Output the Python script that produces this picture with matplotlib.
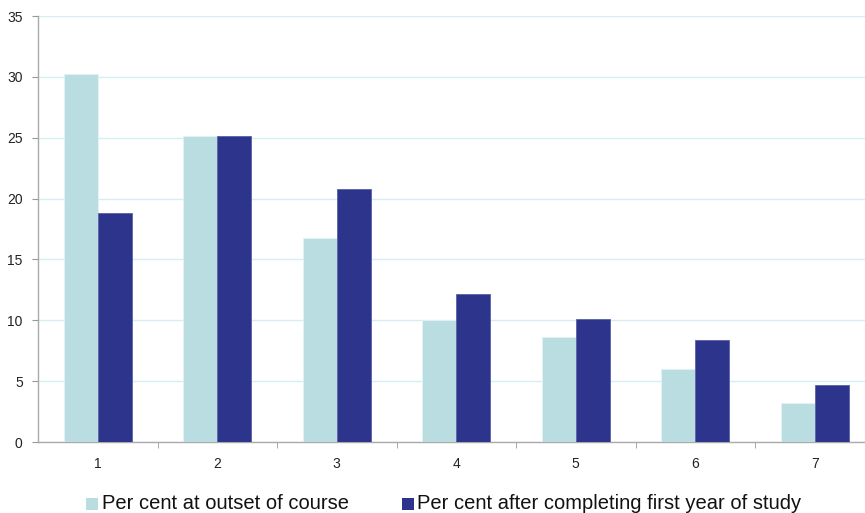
import matplotlib
matplotlib.use("Agg")
import matplotlib.pyplot as plt
from matplotlib.patches import Rectangle
import numpy as np

plt.rcParams['font.family'] = ['Liberation Sans', 'DejaVu Sans']

categories = ['1', '2', '3', '4', '5', '6', '7']
outset = [30.2, 25.1, 16.8, 10.0, 8.6, 6.0, 3.2]
after_first_year = [18.8, 25.1, 20.8, 12.2, 10.1, 8.4, 4.7]
series_names = ['Per cent at outset of course', 'Per cent after completing first year of study']
yticks = [0, 5, 10, 15, 20, 25, 30, 35]

light = '#b9dde1'
dark = '#2d348b'

W, H = 865, 513
fig = plt.figure(figsize=(W/100, H/100), dpi=100)
ax = fig.add_axes([38/W, 1-442/H, 836.5/W, 426/H])

x = np.arange(1, len(categories) + 1)
w = 0.285
ax.bar(x - w/2, outset, width=w, color=light, edgecolor='#e4f2f4', linewidth=0.6, zorder=3)
ax.bar(x + w/2, after_first_year, width=w, color=dark, edgecolor='#5a60a8', linewidth=0.6, zorder=3)

ax.set_xlim(0.5, len(categories) + 0.5)
ax.set_ylim(0, 35)
ax.set_yticks(yticks)
ax.set_yticklabels([str(t) for t in yticks], fontsize=10, color='#222222')
ax.yaxis.grid(True, color='#d6eef3', linewidth=1.0, zorder=0)
ax.set_axisbelow(True)

ax.set_xticks(x)
ax.set_xticklabels(categories, fontsize=10, color='#222222')
ax.set_xticks(np.arange(1.5, len(categories) + 0.5, 1), minor=True)
ax.tick_params(axis='x', which='major', length=0, pad=11)
ax.tick_params(axis='x', which='minor', length=4, color='#999999', direction='out')
ax.tick_params(axis='y', length=4, color='#999999', pad=7)

for s in ['top', 'right']:
    ax.spines[s].set_visible(False)
for s in ['left', 'bottom']:
    ax.spines[s].set_color('#aaaaaa')
    ax.spines[s].set_linewidth(1.0)

# legend drawn manually
leg_items = [(86, 102, light, series_names[0]), (402, 417, dark, series_names[1])]
for sx, tx, col, name in leg_items:
    fig.patches.append(Rectangle((sx/W, 1-510/H), 12/W, 12/H, transform=fig.transFigure,
                                 facecolor=col, edgecolor='none'))
    fig.text(tx/W, 1-503.5/H, name, fontsize=14.5, color='#111111', va='center', ha='left')

fig.savefig('out.png', dpi=100)
